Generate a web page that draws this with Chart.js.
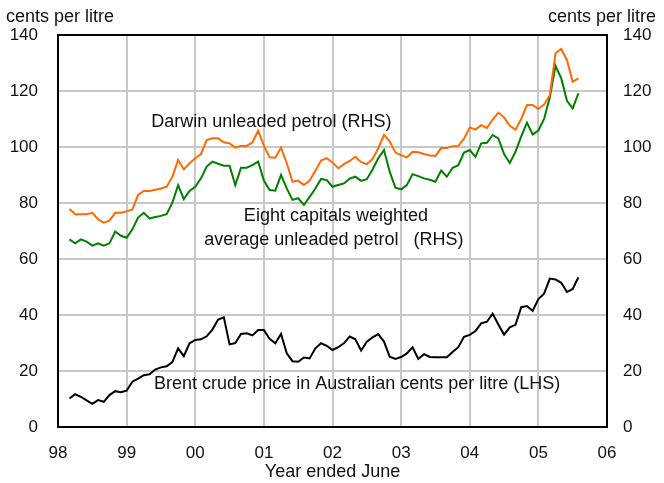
<!DOCTYPE html>
<html>
<head>
<meta charset="utf-8">
<script src="https://cdn.jsdelivr.net/npm/chart.js@4/dist/chart.umd.min.js"></script>
<style>
  html, body { margin: 0; padding: 0; background: #fff; }
  canvas { display: block; }
</style>
</head>
<body>
<canvas id="petrolChart" width="664" height="483"></canvas>
<script>
// monthly series, first point is 2 months past the '98' gridline
const firstMonth = 2;
const yearLabels = ['98', '99', '00', '01', '02', '03', '04', '05', '06'];

const darwin = [
  77.9, 76.0, 76.0, 76.0, 76.5, 74.2, 73.0, 73.7, 76.5, 76.5,
  77.0, 77.7, 82.9, 84.3, 84.3, 84.7, 85.2, 85.8, 89.4, 95.4,
  92.0, 94.2, 96.0, 97.5, 102.5, 103.1, 103.1, 101.7, 101.3, 99.8,
  100.4, 100.4, 101.7, 105.8, 100.4, 96.3, 96.2, 99.8, 94.2, 87.6,
  88.0, 86.4, 88.0, 91.5, 95.2, 96.0, 94.5, 92.4, 93.9, 95.0,
  96.5, 94.6, 93.9, 95.7, 99.5, 104.3, 102.0, 98.0, 97.1, 96.3,
  98.3, 98.1, 97.5, 97.0, 96.8, 99.6, 99.6, 100.3, 100.4, 103.0,
  107.0, 106.2, 107.8, 106.8, 109.8, 112.3, 110.6, 107.6, 106.2, 110.0,
  115.0, 115.0, 113.6, 115.2, 118.5, 133.5, 135.0, 131.0, 123.3, 124.5
];

const eightCapitals = [
  67.0, 65.6, 67.0, 66.2, 64.8, 65.6, 64.8, 65.6, 69.8, 68.3,
  67.6, 70.6, 74.8, 76.5, 74.5, 75.0, 75.4, 76.0, 80.1, 86.4,
  81.4, 84.3, 85.8, 88.8, 93.0, 94.8, 94.0, 93.3, 93.3, 86.4,
  92.6, 92.6, 93.5, 94.8, 88.0, 84.6, 84.4, 90.0, 85.2, 81.1,
  81.7, 79.3, 82.2, 85.2, 88.6, 88.2, 85.8, 86.4, 87.0, 88.7,
  89.4, 87.9, 88.5, 92.0, 96.0, 98.9, 91.2, 85.5, 84.9, 86.4,
  90.3, 89.6, 88.8, 88.3, 87.6, 91.6, 89.4, 92.6, 93.5, 98.0,
  98.9, 96.5, 101.3, 101.5, 104.3, 103.1, 97.5, 94.3, 98.3, 103.8,
  108.7, 104.5, 105.9, 110.0, 117.8, 129.0, 124.5, 116.5, 113.8, 119.2
];

const brent = [
  10.2, 11.7, 10.8, 9.5, 8.3, 9.6, 9.0, 11.4, 12.8, 12.4,
  13.0, 16.2, 17.3, 18.5, 18.8, 20.5, 21.3, 21.7, 23.2, 28.1,
  25.3, 29.9, 31.1, 31.3, 32.4, 34.8, 38.4, 39.2, 29.5, 30.0,
  33.2, 33.5, 32.7, 34.6, 34.6, 31.5, 29.9, 33.2, 26.3, 23.5,
  23.3, 24.8, 24.5, 28.1, 29.9, 29.0, 27.5, 28.5, 29.9, 32.3,
  31.3, 27.3, 30.5, 32.0, 33.2, 30.5, 25.1, 24.3, 25.0, 26.3,
  28.5, 24.3, 26.0, 25.0, 24.9, 24.9, 24.9, 26.8, 28.5, 32.2,
  32.9, 34.3, 37.0, 37.6, 40.5, 36.6, 33.0, 35.6, 36.5, 42.8,
  43.2, 41.5, 45.7, 47.6, 53.0, 52.7, 51.5, 48.2, 49.3, 53.5
];

const FONT = '"Liberation Sans", Arial, sans-serif';

function toPoints(values) {
  return values.map((v, i) => ({ x: (firstMonth + i) / 12, y: v }));
}

// text notes placed in data units (years since '98, cents per litre)
const notes = [
  { text: 'Darwin unleaded petrol (RHS)', x: 1.36, y: 109, align: 'left' },
  { text: 'Eight capitals weighted', x: 4.05, y: 75.2, align: 'center' },
  { text: 'average unleaded petrol   (RHS)', x: 4.02, y: 66.8, align: 'center' },
  { text: 'Brent crude price in Australian cents per litre (LHS)', x: 1.40, y: 15.4, align: 'left' }
];

const extras = {
  id: 'extras',
  afterDraw(chart) {
    const ctx = chart.ctx;
    const a = chart.chartArea;
    const xs = chart.scales.x, ys = chart.scales.y;
    ctx.save();
    ctx.strokeStyle = '#000';
    ctx.lineWidth = 2;
    ctx.strokeRect(a.left, a.top, a.right - a.left, a.bottom - a.top);

    ctx.fillStyle = '#111';
    ctx.font = '18px ' + FONT;
    ctx.textBaseline = 'middle';
    ctx.textAlign = 'left';
    ctx.fillText('cents per litre', 6, 17);
    ctx.textAlign = 'right';
    ctx.fillText('cents per litre', 656, 17);

    notes.forEach(n => {
      ctx.textAlign = n.align;
      ctx.fillText(n.text, xs.getPixelForValue(n.x), ys.getPixelForValue(n.y));
    });
    ctx.restore();
  }
};

new Chart(document.getElementById('petrolChart'), {
  type: 'line',
  data: {
    datasets: [
      {
        label: 'Darwin unleaded petrol (RHS)',
        data: toPoints(darwin),
        yAxisID: 'y1',
        borderColor: '#ff6a00',
        borderWidth: 2
      },
      {
        label: 'Eight capitals weighted average unleaded petrol (RHS)',
        data: toPoints(eightCapitals),
        yAxisID: 'y1',
        borderColor: '#008000',
        borderWidth: 2
      },
      {
        label: 'Brent crude price in Australian cents per litre (LHS)',
        data: toPoints(brent),
        yAxisID: 'y',
        borderColor: '#000000',
        borderWidth: 2
      }
    ]
  },
  options: {
    responsive: false,
    animation: false,
    devicePixelRatio: 1,
    elements: { point: { radius: 0 }, line: { tension: 0 } },
    layout: { padding: { top: 35, left: 0, right: 0, bottom: 0 } },
    plugins: { legend: { display: false }, tooltip: { enabled: false } },
    scales: {
      x: {
        type: 'linear',
        min: 0,
        max: 8,
        afterFit: s => { s.height = 56; },
        afterBuildTicks: s => { s.ticks = yearLabels.map((_, i) => ({ value: i })); },
        grid: { color: '#c8c8c8', lineWidth: 2, drawTicks: false },
        border: { display: false },
        ticks: {
          padding: 16,
          color: '#111',
          font: { family: FONT, size: 17 },
          maxRotation: 0,
          callback: v => yearLabels[v]
        },
        title: {
          display: true,
          text: 'Year ended June',
          color: '#111',
          font: { family: FONT, size: 18 },
          padding: 0
        }
      },
      y: {
        position: 'left',
        min: 0,
        max: 140,
        afterFit: s => { s.width = 58; },
        grid: { color: '#c8c8c8', lineWidth: 2, drawTicks: false },
        border: { display: false },
        ticks: { stepSize: 20, padding: 20, color: '#111', font: { family: FONT, size: 17 } }
      },
      y1: {
        position: 'right',
        min: 0,
        max: 140,
        afterFit: s => { s.width = 57; },
        grid: { display: false, drawTicks: false },
        border: { display: false },
        ticks: { stepSize: 20, padding: 16, color: '#111', font: { family: FONT, size: 17 } }
      }
    }
  },
  plugins: [extras]
});
</script>
</body>
</html>
